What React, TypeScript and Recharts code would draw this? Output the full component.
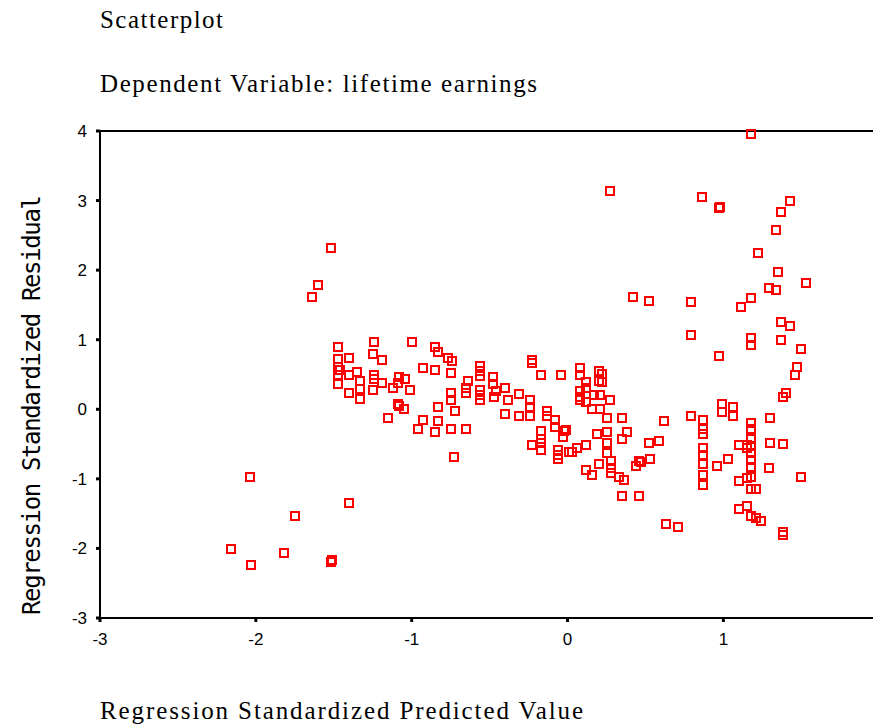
import { ScatterChart, Scatter, XAxis, YAxis, ReferenceLine } from "recharts";

// standardized predicted value (x) / standardized residual (y)
const predicted = [
  -1.52, -1.60, -1.64, -2.04, -1.40, -1.75, -2.16, -1.82, -2.03, -1.51, -1.52,
  -1.47, -1.24, -1.25, -1.19, -1.47, -1.40, -1.46, -1.47, -1.35, -1.40, -1.47, -1.24,
  -1.24, -1.33, -1.19, -1.47, -1.33, -1.25, -1.12, -1.40, -1.33, -1.09, -1.15, -1.08,
  -1.00, -0.85, -0.83, -0.77, -0.74, -0.93, -0.85, -0.75, -1.04, -1.09,
  -1.01, -0.56, -0.56, -0.56, -0.64, -0.48, -0.48, -0.65, -0.65, -0.56,
  -0.56, -0.56, -0.75, -0.75, -0.46, -0.47, -0.40, -0.38, -0.31, -0.24,
  -0.24, -0.24, -1.08, -1.05, -0.83, -0.72, -0.40, -0.31, -0.93, -0.83,
  -0.96, -0.85, -0.75, -0.65, -0.13, -0.13, -0.08, -0.08, -0.17, -0.17,
  -0.17, -0.23, -0.17, -0.03, -0.02, -0.06, -0.06, -0.23, -0.23, -0.17,
  -0.04, -0.73, -0.06, 0.01,
  0.79, 0.97, 0.08, 0.08, 0.20, 0.22, 0.22, 0.20, 0.12, 0.12,
  0.08, 0.08, 0.08, 0.12, 0.17, 0.21, 0.27, 0.16, 0.21, 0.25,
  0.35, 0.62, 0.79, -0.01, 0.19, 0.25, 0.38, 0.35, 0.25, 0.12,
  0.06, 0.03, 0.52, 0.59, 0.25, 0.28, 0.28, 0.28, 0.20, 0.12,
  0.16, 0.33, 0.36, 0.46, 0.44, 0.53, 0.35, 0.46, 0.87, 0.87,
  0.87, 0.87, 0.87, 0.87, 0.87, 0.87, 0.96, 0.47,
  0.27, 1.18, 0.86, 0.98, 0.97, 1.43, 1.37, 1.34, 1.22, 1.35,
  1.53, 1.29, 1.34, 0.42, 0.52, 0.79, 1.18, 1.11, 1.37, 1.43,
  1.18, 1.18, 1.37, 1.50,
  1.47, 1.46, 1.40, 1.38, 0.99, 0.99, 1.06, 1.06, 1.18, 1.18,
  1.18, 1.18, 1.18, 1.18, 1.18, 1.18, 1.18, 1.21, 1.10, 1.15,
  1.15, 1.30, 1.30, 1.38, 1.29, 1.50, 1.03, 1.10, 1.15,
  1.10, 1.15, 1.18, 1.21, 1.24, 0.63, 0.71, 1.38, 1.38,
];

const residual = [
  2.32, 1.79, 1.62, -0.97, -1.34, -1.53, -2.01, -2.06, -2.24, -2.16, -2.20,
  0.90, 0.96, 0.80, 0.71, 0.72, 0.73, 0.57, 0.61, 0.54, 0.50, 0.49, 0.50,
  0.43, 0.40, 0.38, 0.36, 0.29, 0.28, 0.30, 0.24, 0.15, 0.07, -0.12, 0.46,
  0.96, 0.89, 0.83, 0.73, 0.70, 0.59, 0.56, 0.52, 0.44, 0.38,
  0.28, 0.62, 0.55, 0.48, 0.41, 0.47, 0.37, 0.31, 0.24, 0.28,
  0.20, 0.13, 0.24, 0.14, 0.26, 0.17, 0.31, 0.14, 0.22, 0.14,
  0.04, -0.09, 0.05, 0.01, 0.03, -0.03, -0.07, -0.10, -0.16, -0.17,
  -0.29, -0.32, -0.29, -0.29, -0.02, -0.10, -0.15, -0.26, -0.31, -0.42,
  -0.49, -0.52, -0.58, -0.40, -0.31, -0.58, -0.66, 0.67, 0.71, 0.50,
  0.50, -0.68, -0.71, -0.62,
  1.07, 0.76, 0.59, 0.50, 0.55, 0.51, 0.39, 0.41, 0.39, 0.31,
  0.26, 0.13, 0.18, 0.11, 0.21, 0.21, 0.14, 0.01, 0.01, -0.12,
  -0.13, -0.17, -0.09, -0.30, -0.35, -0.33, -0.33, -0.42, -0.49, -0.51,
  -0.55, -0.61, -0.48, -0.45, -0.63, -0.75, -0.84, -0.91, -0.79, -0.87,
  -0.94, -0.98, -1.02, -0.74, -0.81, -0.72, -1.24, -1.24, -0.16, -0.29,
  -0.35, -0.55, -0.65, -0.78, -0.94, -1.09, -0.81, -0.76,
  3.14, 3.96, 3.05, 2.91, 2.90, 3.00, 2.83, 2.57, 2.24, 1.98,
  1.82, 1.74, 1.71, 1.62, 1.56, 1.54, 1.60, 1.47, 1.26, 1.20,
  1.03, 0.93, 1.00, 0.87,
  0.61, 0.50, 0.24, 0.17, 0.08, -0.04, 0.03, -0.09, -0.19, -0.29,
  -0.42, -0.53, -0.63, -0.73, -0.83, -0.98, -1.14, -1.14, -0.52, -0.52,
  -0.56, -0.13, -0.48, -0.50, -0.85, -0.97, -0.72, -1.03, -0.99,
  -1.43, -1.39, -1.53, -1.56, -1.60, -1.65, -1.69, -1.77, -1.80,
];

const xTicks = [-3, -2, -1, 0, 1];
const yTicks = [-3, -2, -1, 0, 1, 2, 3, 4];

const points = predicted.map((x, i) => ({ x, y: residual[i] }));

const tickFont = { fill: "#000", fontSize: 17, fontFamily: "Liberation Sans" };
const serif = "Liberation Serif";

function HollowSquare(props: any) {
  const { cx, cy } = props;
  if (cx == null || cy == null) return null;
  return (
    <rect
      x={Math.round(cx) - 4}
      y={Math.round(cy) - 4}
      width={8}
      height={8}
      fill="none"
      stroke="#ff0000"
      strokeWidth={2}
    />
  );
}

export default function App() {
  return (
    <div style={{ position: "absolute", left: 0, top: 0, width: 873, height: 725, background: "#fff" }}>
      <ScatterChart width={873} height={725} margin={{ top: 131, right: 0, bottom: 77, left: 40 }}>
        <XAxis
          type="number"
          dataKey="x"
          domain={[-3, 1.96]}
          allowDataOverflow
          ticks={xTicks}
          height={30}
          axisLine={{ stroke: "#000", strokeWidth: 2 }}
          tickLine={{ stroke: "#000", strokeWidth: 3 }}
          tickSize={4}
          tickMargin={11}
          tick={tickFont}
        />
        <YAxis
          type="number"
          dataKey="y"
          domain={[-3, 4]}
          ticks={yTicks}
          width={60}
          axisLine={{ stroke: "#000", strokeWidth: 2 }}
          tickLine={{ stroke: "#000", strokeWidth: 3 }}
          tickSize={4}
          tickMargin={9}
          tick={tickFont}
        />
        <ReferenceLine y={4} stroke="#000" strokeWidth={2} />
        <Scatter data={points} shape={HollowSquare} isAnimationActive={false} />
      </ScatterChart>
      <svg
        width={873}
        height={725}
        style={{ position: "absolute", left: 0, top: 0, pointerEvents: "none" }}
      >
        <text x={100} y={28} fontFamily={serif} fontSize={25} textLength={123} lengthAdjust="spacing">
          Scatterplot
        </text>
        <text x={100} y={92} fontFamily={serif} fontSize={25} textLength={437} lengthAdjust="spacing">
          Dependent Variable: lifetime earnings
        </text>
        <text x={100} y={719} fontFamily={serif} fontSize={25} textLength={483} lengthAdjust="spacing">
          Regression Standardized Predicted Value
        </text>
        <text
          transform="translate(40,405) rotate(-90)"
          textAnchor="middle"
          fontFamily="DejaVu Sans Mono"
          fontSize={24}
          textLength={420}
          lengthAdjust="spacing"
        >
          Regression Standardized Residual
        </text>
      </svg>
    </div>
  );
}
